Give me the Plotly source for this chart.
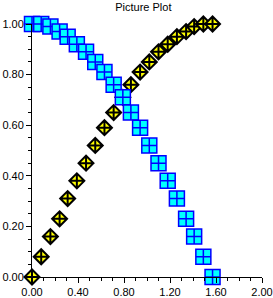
import plotly.graph_objects as go

x_vals = [0.00, 0.08, 0.16, 0.24, 0.31, 0.39, 0.47, 0.55, 0.63, 0.71, 0.79,
          0.86, 0.94, 1.02, 1.10, 1.18, 1.26, 1.34, 1.41, 1.49, 1.57]
sin_vals = [0.00, 0.08, 0.16, 0.23, 0.31, 0.38, 0.45, 0.52, 0.59, 0.65, 0.71,
            0.76, 0.81, 0.85, 0.89, 0.92, 0.95, 0.97, 0.99, 1.00, 1.00]
cos_vals = [1.00, 1.00, 0.99, 0.97, 0.95, 0.92, 0.89, 0.85, 0.81, 0.76, 0.71,
            0.65, 0.59, 0.52, 0.45, 0.38, 0.31, 0.23, 0.16, 0.08, 0.00]
x_ticks = [0.0, 0.4, 0.8, 1.2, 1.6, 2.0]
y_ticks = [0.0, 0.2, 0.4, 0.6, 0.8, 1.0]

fig = go.Figure()
fig.add_trace(go.Scatter(
    x=x_vals, y=sin_vals, mode="markers", cliponaxis=False,
    marker=dict(symbol="diamond-cross", size=11.5, color="#ffff00",
                line=dict(color="#000000", width=2)),
    showlegend=False))
fig.add_trace(go.Scatter(
    x=x_vals, y=cos_vals, mode="markers", cliponaxis=False,
    marker=dict(symbol="square-cross", size=15, color="#00ffff",
                line=dict(color="#0000ff", width=1.5)),
    showlegend=False))

axis_common = dict(showgrid=False, zeroline=False, showline=True, automargin=False,
                   linecolor="black", linewidth=1, ticks="outside",
                   ticklen=5, tickcolor="black", tickformat=".2f",
                   tickfont=dict(family="Liberation Sans, Arial", size=11, color="black"))

fig.update_layout(
    width=273, height=298,
    margin=dict(l=32, r=11, t=24, b=21),
    paper_bgcolor="white", plot_bgcolor="white",
    title=dict(text="Picture Plot", x=0.525, xanchor="center", y=0.975, yanchor="middle",
               font=dict(family="Liberation Sans, Arial", size=11, color="black")),
    xaxis=dict(range=[0, 2.0], tickvals=x_ticks,
               minor=dict(dtick=0.1, tick0=0, ticks="outside", ticklen=3, tickcolor="black"),
               **axis_common),
    yaxis=dict(range=[0, 1.0], tickvals=y_ticks,
               minor=dict(dtick=0.05, tick0=0, ticks="outside", ticklen=3, tickcolor="black"),
               **axis_common),
)

fig.write_html("out.html")
